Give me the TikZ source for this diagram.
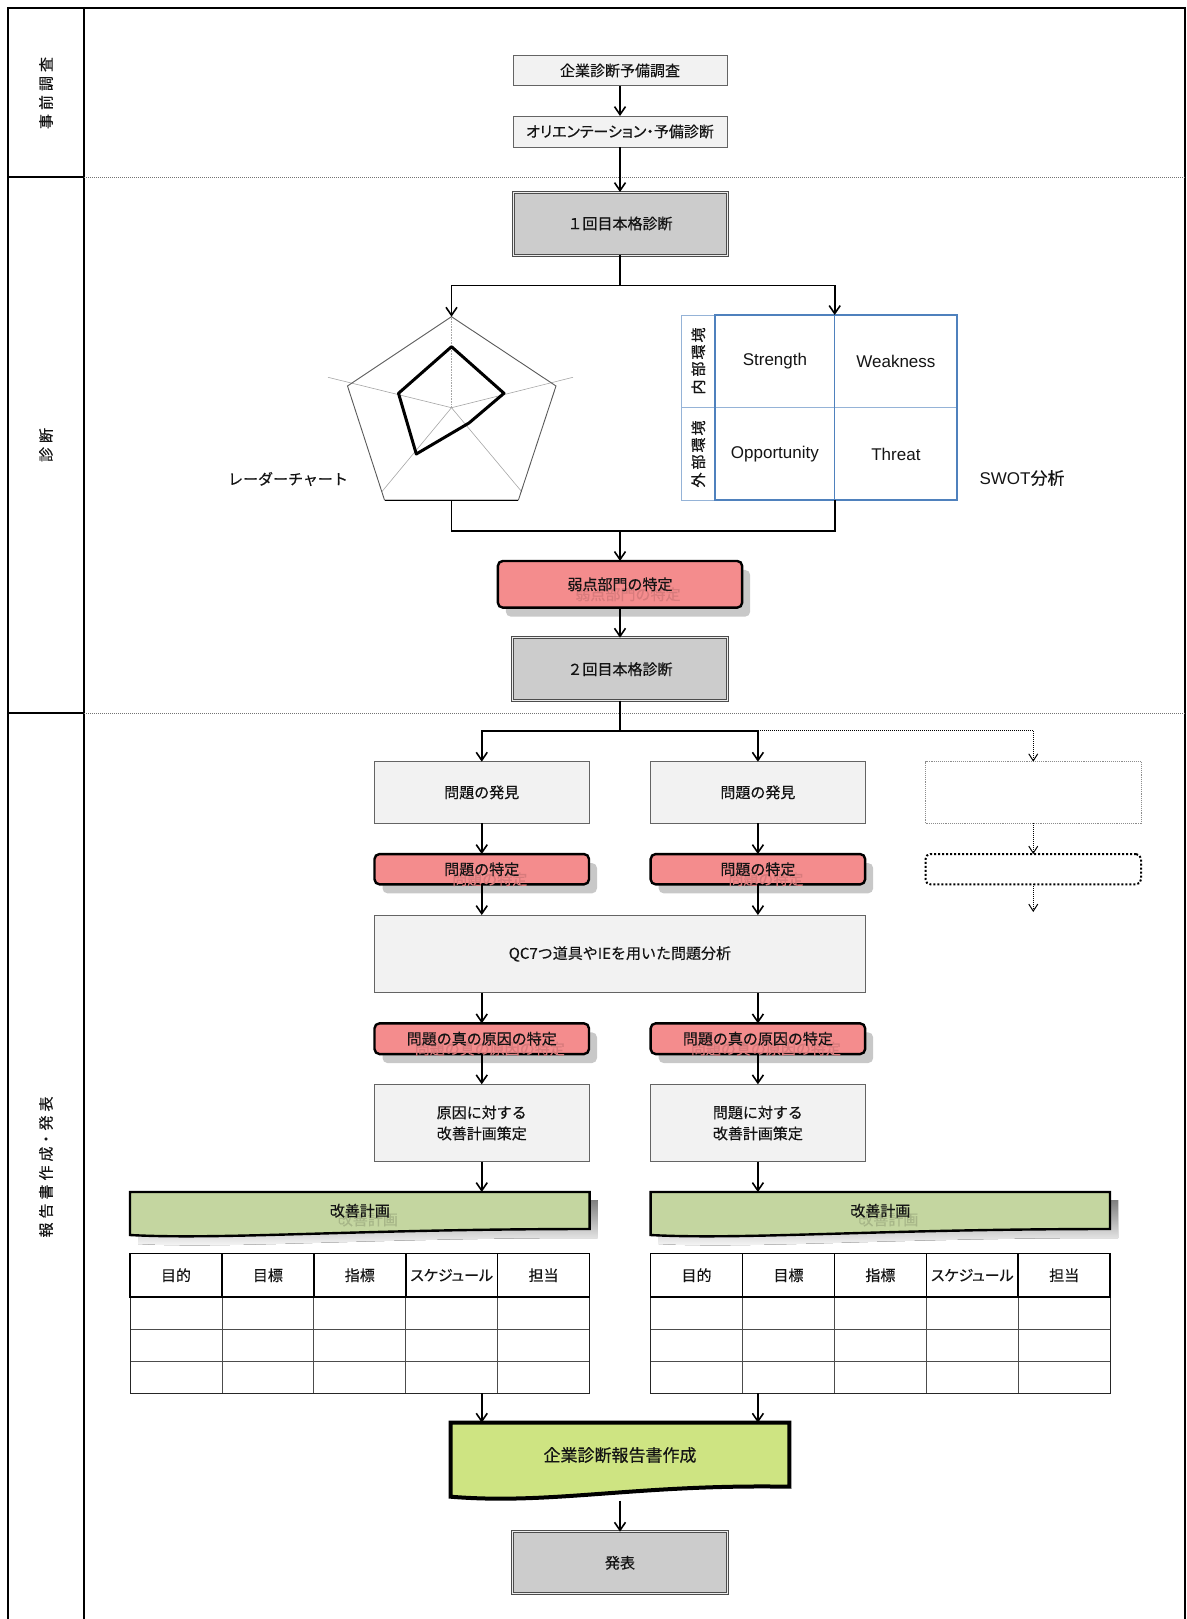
\documentclass[tikz,border=0pt]{standalone}
\usepackage{fontspec}
\setmainfont{Noto Sans CJK JP}[FakeBold=0.4]
\newfontfamily\propjp[RawFeature=+palt,FakeBold=0.4]{Noto Sans CJK JP}
\newfontfamily\swotfont{Liberation Sans}
\usetikzlibrary{arrows.meta,calc}

\definecolor{boxfill}{RGB}{242,242,242}
\definecolor{boxline}{RGB}{100,100,100}
\definecolor{grayfill}{RGB}{204,204,204}
\definecolor{redfill}{RGB}{244,140,141}
\definecolor{shade}{RGB}{200,200,200}
\definecolor{planfill}{RGB}{196,214,160}
\definecolor{reportfill}{RGB}{206,228,130}
\definecolor{swotblue}{RGB}{79,129,189}
\definecolor{swotlight}{RGB}{149,179,215}
\definecolor{ink}{RGB}{20,20,20}

% rounded pink step with a drop shadow and a faint shadow caption
\newcommand\pinkbox[5]{%
  \node[shadowbox, minimum width=#3, minimum height=#4] (#1s) at ($(#2)+(8,9)$) {};
  \node[pink, minimum width=#3, minimum height=#4] (#1) at (#2) {};
  \node[txt, text=redfill!88!black] (#1g) at ($(#2)+(8,10)$) {#5};
  \node[txt] (#1t) at (#2) {#5};
}

% improvement-plan table: left x, name prefix
\newcommand\plantable[2]{%
  \begin{scope}[shift={(#1,0)}]
    \foreach \i in {1,...,4}
      \draw[gridline] ({\i*91.92},1297) -- ({\i*91.92},1393.3);
    \draw[gridline] (0,1329.3) -- (459.6,1329.3);
    \draw[gridline] (0,1361) -- (459.6,1361);
    \draw[line width=1pt, draw=black!85] (0,1297) rectangle (459.6,1393.3);
    \foreach \i in {1,...,4}
      \draw[line width=1.6pt] ({\i*91.92},1253.3) -- ({\i*91.92},1297);
    \draw[line width=1.6pt] (0,1253.3) rectangle (459.6,1297);
    \foreach \t [count=\i] in {目的,目標,指標,スケジュール,担当}
      \node[txt, font=\propjp\fontsize{15pt}{18pt}\selectfont] (#2h\i) at ({(\i-0.5)*91.92},1275.2) {\t};
  \end{scope}
}

\begin{document}
\begin{tikzpicture}[x=1pt,y=-1pt,
  every node/.style={inner sep=0pt, outer sep=0pt},
  txt/.style={text=ink, font=\fontsize{15pt}{21pt}\selectfont},
  plain/.style={txt, draw=boxline, line width=0.9pt, fill=boxfill},
  heavy/.style={txt, draw=black!70, line width=1pt, double=white!85!gray, double distance=1pt, fill=grayfill},
  pink/.style={draw=black, line width=2.4pt, rounded corners=5pt, fill=redfill},
  shadowbox/.style={fill=shade, rounded corners=5pt},
  link/.style={line width=1.6pt, draw=black},
  arr/.style={link, -{Straight Barb[length=8pt,width=11pt]}},
  darr/.style={line width=1pt, draw=black, densely dotted, -{Straight Barb[length=7pt,width=9pt]}},
  gridline/.style={line width=0.7pt, draw=black!70},
  spoke/.style={line width=0.6pt, draw=black!35},
  lanetxt/.style={text=ink, font=\fontsize{15pt}{16pt}\selectfont, rotate=90},
  swottxt/.style={text=ink, font=\swotfont\fontsize{17pt}{20pt}\selectfont},
]
\useasboundingbox (0,0) rectangle (1186,1619);

% ---------- swimlane frame ----------
\draw[line width=1.5pt] (8,1619) -- (8,8) -- (1185,8) -- (1185,1619);
\draw[line width=1.5pt] (84,8) -- (84,1619);
\draw[line width=1.5pt] (8,177) -- (84,177);
\draw[line width=1.5pt] (8,713) -- (84,713);
\draw[black!55, densely dotted, line width=1pt] (84,177) -- (1185,177);
\draw[black!55, densely dotted, line width=1pt] (84,713) -- (1185,713);

\node[lanetxt] (lane1) at (46,93) {事\kern4pt 前\kern4pt 調\kern4pt 査};
\node[lanetxt] (lane2) at (46,445) {診\kern4pt 断};
\node[lanetxt] (lane3) at (46,1167) {報\kern4pt 告\kern4pt 書\kern4pt 作\kern4pt 成・\kern1pt 発\kern4pt 表};

% ---------- preliminary survey ----------
\node[plain, minimum width=214pt, minimum height=30.5pt] (pre) at (620,70.5) {企業診断予備調査};
\node[plain, minimum width=214pt, minimum height=31pt, font=\propjp\fontsize{15pt}{18pt}\selectfont] (orient) at (620,131.5) {オリエンテーション・予備診断};
\node[heavy, minimum width=214pt, minimum height=63pt] (first) at (620,223.5) {１回目本格診断};
\draw[arr] (pre) -- (orient);
\draw[arr] (orient) -- (first);

% ---------- radar chart ----------
\coordinate (rT) at (451.5,316.7);
\coordinate (rUR) at (556,386);
\coordinate (rBR) at (518.4,500);
\coordinate (rBL) at (384.5,500);
\coordinate (rUL) at (347.5,386);
\coordinate (rC) at (451.5,407.7);
\draw[spoke] (rC) -- (328,377.3);
\draw[spoke] (rC) -- (573,377.3);
\draw[spoke] (rC) -- (381.6,492);
\draw[spoke] (rC) -- (522,492);
\draw[spoke, densely dotted] (rC) -- (rT);
\draw[line width=0.9pt, draw=black!65] (rT) -- (rUR) -- (rBR) -- (rBL) -- (rUL) -- cycle;
\draw[line width=0.9pt, draw=black] (rBL) -- (rBR);
\draw[line width=3pt, line join=round] (451.5,346.7) -- (504,393.3) -- (469,423) -- (416.3,454) -- (398.5,393.3) -- cycle;
\node[txt] (radarname) at (288,479) {レーダーチャート};

% ---------- SWOT grid ----------
\coordinate (swTop) at (834.7,315);
\coordinate (swBot) at (834.7,500);
\draw[swotlight, line width=0.8pt] (681.6,315) rectangle (715,500);
\draw[swotlight, line width=0.8pt] (681.6,407.3) -- (715,407.3);
\draw[swotlight, line width=1.4pt] (715,407.3) -- (957,407.3);
\draw[swotblue, line width=0.8pt] (swTop) -- (swBot);
\draw[swotblue, line width=2pt] (715,315) rectangle (957,500);
\node[lanetxt, font=\fontsize{15pt}{16pt}\selectfont] (inner) at (698.3,361) {内\kern3pt 部\kern2pt 環\kern2pt 境};
\node[lanetxt, font=\fontsize{15pt}{16pt}\selectfont] (outer) at (698.3,454) {外\kern3pt 部\kern2pt 環\kern2pt 境};
\node[swottxt] (sS) at (774.9,361) {Strength};
\node[swottxt] (sW) at (895.9,361) {Weakness};
\node[swottxt] (sO) at (774.9,454) {Opportunity};
\node[swottxt] (sT) at (895.9,454) {Threat};
\node[txt, font=\fontsize{17pt}{20pt}\selectfont] (swotname) at (1022,478) {\swotfont SWOT\rmfamily 分析};

% ---------- first diagnosis branches ----------
\coordinate (split1) at (620,285.5);
\coordinate (join1) at (620,530.7);
\draw[link] (first.south) -- (split1);
\draw[arr] (split1) -| (rT);
\draw[arr] (split1) -| (swTop);
\draw[link] (rBL -| rC) |- (join1);
\draw[link] (swBot) |- (join1);

\pinkbox{weak}{620,584.3}{244.3pt}{46.7pt}{弱点部門の特定}
\draw[arr] (join1) -- (weak.north);

\node[heavy, minimum width=215pt, minimum height=63pt] (second) at (620,669.2) {２回目本格診断};
\draw[arr] (weak) -- (second);

% ---------- problem analysis ----------
\coordinate (split2) at (620,730.7);
\coordinate (split3) at (757.9,730.7);
\node[plain, minimum width=214.5pt, minimum height=61.3pt] (findL) at (481.75,792.35) {問題の発見};
\node[plain, minimum width=214.5pt, minimum height=61.3pt] (findR) at (757.9,792.35) {問題の発見};
\node[draw=black!45, densely dotted, line width=0.9pt, minimum width=215.5pt, minimum height=61.3pt] (findX) at (1033.25,792.35) {};
\draw[link] (second.south) -- (split2);
\draw[arr] (split2) -| (findL.north);
\draw[arr] (split2) -| (findR.north);
\draw[darr] (split3) -| (findX.north);

\pinkbox{idL}{481.75,869.2}{214.5pt}{30.3pt}{問題の特定}
\pinkbox{idR}{757.9,869.2}{214.5pt}{30.3pt}{問題の特定}
\node[draw=black, dotted, line width=2pt, rounded corners=5pt, minimum width=215.5pt, minimum height=30.3pt] (idX) at (1033.25,869.2) {};
\coordinate (dotEnd) at (1033.25,912);
\draw[arr] (findL) -- (idL);
\draw[arr] (findR) -- (idR);
\draw[darr] (findX) -- (idX);
\draw[darr] (idX) -- (dotEnd);

\node[plain, minimum width=490.8pt, minimum height=77.7pt] (qc) at (619.9,953.9) {QC7つ道具やIEを用いた問題分析};
\draw[arr] (idL) -- (idL |- qc.north);
\draw[arr] (idR) -- (idR |- qc.north);

\pinkbox{rootL}{481.75,1038.7}{214.5pt}{30.7pt}{問題の真の原因の特定}
\pinkbox{rootR}{757.9,1038.7}{214.5pt}{30.7pt}{問題の真の原因の特定}
\draw[arr] (qc.south -| rootL) -- (rootL);
\draw[arr] (qc.south -| rootR) -- (rootR);

\node[plain, minimum width=214.5pt, minimum height=77.4pt, align=center] (planL) at (481.75,1123) {原因に対する\\改善計画策定};
\node[plain, minimum width=214.5pt, minimum height=77.4pt, align=center] (planR) at (757.9,1123) {問題に対する\\改善計画策定};
\draw[arr] (rootL) -- (planL);
\draw[arr] (rootR) -- (planR);

% ---------- improvement plan documents ----------
\foreach \xa/\xb/\nm in {130/589.6/docL, 650.6/1110/docR}{
  \pgfmathsetmacro\docw{\xb-\xa}
  \fill[shade] (\xa+8,1200) -- (\xb+8,1200) -- (\xb+8,1238)
     .. controls (\xa+0.5*\docw+8,1238) and (\xa+0.2*\docw+8,1249) .. (\xa+8,1244) -- cycle;
  \draw[line width=2.4pt, fill=planfill, line join=miter] (\xa,1192) -- (\xb,1192) -- (\xb,1229)
     .. controls (\xa+0.5*\docw,1229) and (\xa+0.2*\docw,1240) .. (\xa,1235) -- cycle;
  \node[txt, text=planfill!85!black] (\nm g) at ({(\xa+\xb)/2+8},1219.5) {改善計画};
  \node[txt] (\nm t) at ({(\xa+\xb)/2},1210.7) {改善計画};
}
\coordinate (docLtop) at (481.75,1192);
\coordinate (docRtop) at (757.9,1192);
\draw[arr] (planL) -- (docLtop);
\draw[arr] (planR) -- (docRtop);

\plantable{130}{tL}
\plantable{650.6}{tR}

% ---------- report and presentation ----------
\fill[reportfill] (450.7,1422.7) -- (789.3,1422.7) -- (789.3,1486.7)
   .. controls (636,1484) and (552,1505) .. (450.7,1496.7) -- cycle;
\draw[line width=4pt, line join=miter] (450.7,1422.7) -- (789.3,1422.7) -- (789.3,1486.7)
   .. controls (636,1484) and (552,1505) .. (450.7,1496.7) -- cycle;
\node[txt, font=\fontsize{17pt}{20pt}\selectfont] (report) at (620,1455) {企業診断報告書作成};
\coordinate (tLbot) at (481.75,1393.3);
\coordinate (tRbot) at (757.9,1393.3);
\coordinate (repL) at (481.75,1422.7);
\coordinate (repR) at (757.9,1422.7);
\coordinate (repBot) at (620,1500.5);
\draw[arr] (tLbot) -- (repL);
\draw[arr] (tRbot) -- (repR);

\node[heavy, minimum width=214.6pt, minimum height=62.3pt] (present) at (620,1562.8) {発表};
\draw[arr] (repBot) -- (present);
\end{tikzpicture}
\end{document}
